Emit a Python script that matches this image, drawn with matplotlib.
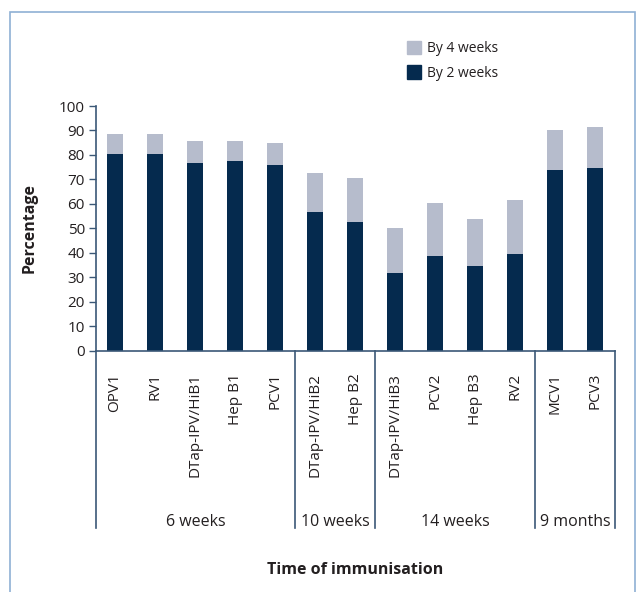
import matplotlib
matplotlib.use("Agg")
import matplotlib.pyplot as plt
import matplotlib.transforms as mtransforms
from matplotlib.patches import Rectangle, Patch

plt.rcParams['font.family'] = ['Open Sans', 'DejaVu Sans']

# vaccines in plotting order
vaccines = ["OPV1", "RV1", "DTap-IPV/HiB1", "Hep B1", "PCV1",
            "DTap-IPV/HiB2", "Hep B2",
            "DTap-IPV/HiB3", "PCV2", "Hep B3", "RV2",
            "MCV1", "PCV3"]
# coverage by 2 weeks and by 4 weeks (%)
by_2_weeks = [80.4, 80.4, 76.7, 77.5, 75.9, 56.6, 52.5, 31.8, 38.7, 34.6, 39.5, 73.8, 74.7]
by_4_weeks = [88.7, 88.7, 85.7, 85.7, 84.9, 72.6, 70.6, 50.1, 60.4, 53.8, 61.6, 90.2, 91.4]
# schedule groups: label and number of vaccines in each
groups = ["6 weeks", "10 weeks", "14 weeks", "9 months"]
group_sizes = [5, 2, 4, 2]

dark = "#052a4e"
light = "#b6bccc"
axis_col = "#3b5877"
text_col = "#231f20"

fig = plt.figure(figsize=(6.36, 5.92), dpi=100)
ax = fig.add_axes([96 / 636, 1 - 350.7 / 592, (615 - 96) / 636, (350.7 - 106) / 592])

x = list(range(len(vaccines)))
extra = [b4 - b2 for b2, b4 in zip(by_2_weeks, by_4_weeks)]
ax.bar(x, by_2_weeks, width=0.4, color=dark, label="By 2 weeks")
ax.bar(x, extra, width=0.4, bottom=by_2_weeks, color=light, label="By 4 weeks")

ax.set_xlim(-0.475, 12.5)
ax.set_ylim(0, 100)
ax.set_yticks(range(0, 101, 10))
ax.set_xticks([])
ax.tick_params(axis='y', length=5, width=1, color=axis_col, labelsize=11, pad=3, labelcolor=text_col)
for s in ["top", "right"]:
    ax.spines[s].set_visible(False)
for s in ["left", "bottom"]:
    ax.spines[s].set_color(axis_col)
    ax.spines[s].set_linewidth(1.2)

trans = mtransforms.blended_transform_factory(ax.transData, ax.transAxes)

# vaccine labels, rotated
for xi, name in zip(x, vaccines):
    ax.text(xi, -0.091, name, transform=trans, rotation=90, ha='center', va='top',
            fontsize=11, color=text_col)

# group dividers and labels
edges = [-0.475]
pos = -0.5
for n in group_sizes:
    pos += n
    edges.append(pos)
edges[-1] = 12.5
for e in edges:
    ax.plot([e, e], [0, -0.725], transform=trans, color=axis_col, lw=1.2, clip_on=False)
for g, a, b in zip(groups, edges[:-1], edges[1:]):
    ax.text((a + b) / 2, -0.70, g, transform=trans, ha='center', va='center',
            fontsize=11.5, color=text_col)

fig.text(30 / 636, 1 - 228 / 592, "Percentage", rotation=90, ha='center', va='center',
         fontsize=11.5, fontweight='bold', color=text_col)
fig.text(355 / 636, 1 - 570 / 592, "Time of immunisation", ha='center', va='center',
         fontsize=11.5, fontweight='bold', color=text_col)

handles = [Patch(color=light, label="By 4 weeks"), Patch(color=dark, label="By 2 weeks")]
fig.legend(handles=handles, loc='upper left', bbox_to_anchor=(400 / 636, 1 - 34 / 592),
           frameon=False, fontsize=10, handlelength=1.0, handleheight=1.1,
           handletextpad=0.45, labelspacing=0.65, borderpad=0, labelcolor=text_col)

# outer border
fig.patches.append(Rectangle((10 / 636, -0.02), 625 / 636, 1.02 - 12 / 592,
                             transform=fig.transFigure, fill=False,
                             edgecolor="#8fb0d4", lw=1.2))

fig.savefig("out.png", dpi=100)
